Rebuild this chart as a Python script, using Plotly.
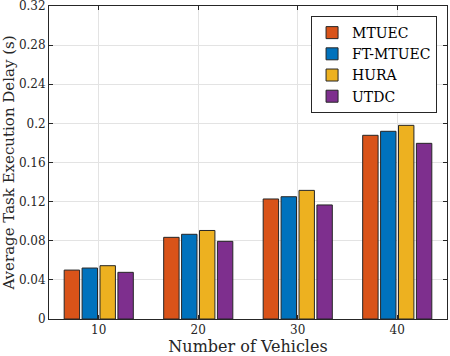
import plotly.graph_objects as go

categories = ["10", "20", "30", "40"]
series_names = ["MTUEC", "FT-MTUEC", "HURA", "UTDC"]
mtuec = [0.0500, 0.0835, 0.1227, 0.1878]
ft_mtuec = [0.0521, 0.0866, 0.1250, 0.1919]
hura = [0.0545, 0.0905, 0.1315, 0.1980]
utdc = [0.0477, 0.0794, 0.1166, 0.1796]
colors = ["#D95319", "#0072BD", "#EDB120", "#7E2F8E"]
ytick_vals = [0, 0.04, 0.08, 0.12, 0.16, 0.2, 0.24, 0.28, 0.32]
ytick_text = ["0", "0.04", "0.08", "0.12", "0.16", "0.2", "0.24", "0.28", "0.32"]

FONT = "'DejaVu Serif', 'Liberation Serif', serif"
fig = go.Figure()
for name, vals, col in zip(series_names, [mtuec, ft_mtuec, hura, utdc], colors):
    fig.add_trace(go.Bar(x=categories, y=vals, name=name,
                         marker=dict(color=col, line=dict(color="#262626", width=1))))

axis_common = dict(showline=True, mirror="ticks", linecolor="#262626", linewidth=1,
                   ticks="inside", ticklen=4, tickcolor="#262626",
                   showgrid=True, gridcolor="#e3e3e3", gridwidth=1, zeroline=False,
                   automargin=False, ticklabeloverflow="allow",
                   tickfont=dict(family=FONT, size=12, color="#262626"))

fig.update_layout(
    width=450, height=356,
    margin=dict(l=49, r=3, t=6, b=37),
    paper_bgcolor="white", plot_bgcolor="white",
    barmode="group", bargap=0.28, bargroupgap=0.14,
    font=dict(family=FONT, color="#262626"),
    xaxis=dict(type="category", range=[-0.5, 3.5],
               title=dict(text="Number of Vehicles", font=dict(family=FONT, size=16), standoff=2),
               **axis_common),
    yaxis=dict(range=[0, 0.32], tickvals=ytick_vals, ticktext=ytick_text,
               title=dict(text="Average Task Execution Delay (s)", font=dict(family=FONT, size=15), standoff=4),
               **axis_common),
    legend=dict(x=0.975, y=0.968, xanchor="right", yanchor="top",
                bgcolor="white", bordercolor="#262626", borderwidth=1,
                font=dict(family=FONT, size=14, color="black"), tracegroupgap=0),
    showlegend=True,
)
fig.write_html("out.html", config={"displayModeBar": False},
               post_script="document.body.style.margin='0';document.body.style.overflow='hidden';")
